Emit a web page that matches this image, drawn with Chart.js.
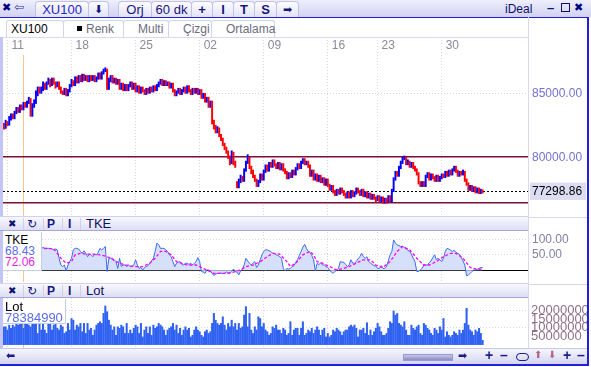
<!DOCTYPE html>
<html>
<head>
<meta charset="utf-8">
<script src="https://cdn.jsdelivr.net/npm/chart.js@4.4.0/dist/chart.umd.min.js"></script>
<style>
body{margin:0;width:591px;height:367px;overflow:hidden;background:#fff;position:relative;font-family:"Liberation Sans",Arial,sans-serif}
.a{position:absolute}
.sym{font-family:"DejaVu Sans",sans-serif}
.top{left:0;top:0;width:591px;height:17px;background:linear-gradient(#eeeefc,#d2d2f2)}
.ttab{position:absolute;top:1px;height:15px;border:1px solid #c2c2e6;border-bottom:none;border-radius:4px 4px 0 0;background:linear-gradient(#fdfdff,#e2e2f8);font-size:13px;line-height:16px;color:#16167e;text-align:center}
.stab{position:absolute;top:20px;height:16px;border:1px solid #d4d4e8;border-bottom:none;border-radius:3px 3px 0 0;background:#fff;font-size:12px;line-height:17px;color:#6c6c7c}
.tool{left:0;width:528px;height:13px;background:linear-gradient(#f8f8fe,#dedef6);border-top:1px solid #d6d0ee;border-bottom:1px solid #a6a6da}
.tool span{position:absolute;top:0;font-size:12px;line-height:14px;color:#16167e;font-weight:bold}
.tool i{position:absolute;top:1px;width:1px;height:12px;background:#cfcfea}
.legend{left:3px;background:#fff;border-right:1px solid #c2d0e2;border-bottom:1px solid #c2d0e2;font-size:12px;line-height:11px;padding-left:2px}
.box{position:absolute;left:0;width:588px}
</style>
</head>
<body>
<div class="a top">
  <span class="a sym" style="left:2px;top:1px;font-size:11px;color:#000080;font-weight:bold">✖</span>
  <span class="a sym" style="left:14px;top:0px;font-size:12px;color:#30309a">⇦</span>
  <div class="ttab" style="left:35px;width:52px;color:#2626c8">XU100</div>
  <div class="ttab sym" style="left:88px;width:19px;font-size:11px">⬇</div>
  <div class="ttab" style="left:118px;width:32px">Orj</div>
  <div class="ttab" style="left:151px;width:39px">60 dk</div>
  <div class="ttab" style="left:191px;width:20px;font-weight:bold">+</div>
  <div class="ttab" style="left:212px;width:20px;font-weight:bold">I</div>
  <div class="ttab" style="left:233px;width:20px;font-weight:bold">T</div>
  <div class="ttab" style="left:254px;width:21px;font-weight:bold">S</div>
  <div class="ttab sym" style="left:276px;width:21px;font-size:11px">➡</div>
  <span class="a" style="left:505px;top:2px;font-size:12px;color:#10106e">iDeal</span>
  <span class="a" style="left:547px;top:0px;font-size:13px;color:#10106e;font-weight:bold">–</span>
  <span class="a" style="left:561px;top:3px;width:7px;height:7px;border:1px solid #10106e"></span>
  <span class="a sym" style="left:574px;top:1px;font-size:11px;color:#000080;font-weight:bold">✖</span>
</div>
<div class="a" style="left:0;top:17px;width:589px;height:1px;background:#2020dc"></div>
<div class="stab" style="left:6px;width:56px;color:#000;padding-left:0"><span style="margin-left:4px">XU100</span></div>
<div class="stab" style="left:63px;width:59px"><span class="a" style="left:13px;top:5px;width:5px;height:5px;background:#000"></span><span class="a" style="left:22px">Renk</span></div>
<div class="stab" style="left:123px;width:44px"><span class="a" style="left:14px">Multi</span></div>
<div class="stab" style="left:168px;width:42px"><span class="a" style="left:14px">Çizgi</span></div>
<div class="stab" style="left:211px;width:62px"><span class="a" style="left:14px">Ortalama</span></div>
<div class="a" style="left:3px;top:37px;width:525px;height:1px;background:#dcd6f0"></div>
<div class="a" style="left:0;top:37px;width:3px;height:311px;background:#c4c4f6"></div>

<div class="box" style="top:37px;height:179px"><canvas id="price"></canvas></div>

<div class="a tool" style="top:216px">
  <span class="sym" style="left:8px;font-size:10px;color:#10106e">✖</span><i style="left:23px"></i>
  <span class="sym" style="left:27px;font-weight:normal">↻</span><i style="left:43px"></i>
  <span style="left:47px">P</span><i style="left:62px"></i>
  <span style="left:68px">I</span><i style="left:80px"></i>
  <span style="left:86px;font-weight:normal;font-size:13px;color:#10105a">TKE</span>
</div>
<div class="box" style="top:232px;height:50px"><canvas id="tke"></canvas></div>
<div class="a legend" style="top:232px;width:36px;height:35px;padding-top:3px">
  <div style="color:#000">TKE</div><div style="color:#5a6ee8">68.43</div><div style="color:#e61ee6">72.06</div>
</div>

<div class="a tool" style="top:283px">
  <span class="sym" style="left:8px;font-size:10px;color:#10106e">✖</span><i style="left:23px"></i>
  <span class="sym" style="left:27px;font-weight:normal">↻</span><i style="left:43px"></i>
  <span style="left:47px">P</span><i style="left:62px"></i>
  <span style="left:68px">I</span><i style="left:80px"></i>
  <span style="left:86px;font-weight:normal;font-size:13px;color:#10105a">Lot</span>
</div>
<div class="box" style="top:298px;height:50px"><canvas id="lot"></canvas></div>
<div class="a legend" style="top:299px;width:60px;height:22px;padding-top:2px;font-size:13px">
  <div style="color:#000">Lot</div><div style="color:#5a6ee8">78384990</div>
</div>

<div class="a" style="left:528px;top:17px;width:1px;height:331px;background:#dcd6f0"></div>
<div class="a" style="left:529px;top:217px;width:58px;height:1px;background:#dcd6f0"></div>
<div class="a" style="left:529px;top:284px;width:58px;height:1px;background:#dcd6f0"></div>

<div class="a" style="left:0;top:348px;width:587px;height:16px;background:linear-gradient(#f6f6fd,#d4d4f0);border-top:1px solid #c8c8e8;box-sizing:border-box">
  <span class="a sym" style="left:6px;top:0;font-size:11px;color:#1a1a8a">⬅</span>
  <span class="a" style="left:403px;top:5px;width:50px;height:7px;background:linear-gradient(#c8c8e8,#8a8ac6);border:1px solid #9a9ad0;box-sizing:border-box"></span>
  <span class="a sym" style="left:458px;top:0;font-size:11px;color:#1a1a8a">➡</span>
  <span class="a" style="left:485px;top:-2px;font-size:14px;font-weight:bold;color:#1a1a8a">+</span>
  <span class="a" style="left:500px;top:-2px;font-size:14px;font-weight:bold;color:#1a1a8a">–</span>
  <span class="a" style="left:516px;top:4px;width:11px;height:6px;border:1px solid #1a1a8a;border-radius:4px"></span>
  <span class="a sym" style="left:534px;top:0;font-size:10px;color:#b06888">⬆</span>
  <span class="a sym" style="left:548px;top:0;font-size:10px;color:#b06888">⬇</span>
  <span class="a" style="left:563px;top:-2px;font-size:14px;font-weight:bold;color:#1a1a8a">+</span>
  <span class="a" style="left:577px;top:-2px;font-size:14px;font-weight:bold;color:#1a1a8a">–</span>
</div>
<div class="a" style="left:587px;top:17px;width:2px;height:349px;background:#2020dc"></div>
<div class="a" style="left:0;top:364px;width:589px;height:2px;background:#2020dc"></div>

<script>
// hourly bars, week of 11th up to the 30th
const slotCount = 295;
const firstOpen = 82600;
const closes = [
  82300, 82700, 82600, 83000, 83300, 83100, 83500, 83800, 83600, 84000,
  83800, 84200, 84000, 84300, 84500, 83300, 84100, 84300, 85000, 85400,
  85100, 85300, 85700, 85400, 85800, 86000, 85700, 86100, 85800, 85600,
  85800, 85400, 85100, 85000, 85300, 84900, 85200, 85600, 85900, 85700,
  86200, 85900, 86300, 86000, 86400, 86100, 86300, 86000, 86300, 86100,
  86300, 86000, 86200, 86500, 86200, 86600, 86800, 86900, 85400, 86000,
  86300, 85900, 86100, 85800, 86000, 85400, 85700, 85300, 85600, 85300,
  85600, 85800, 85400, 85700, 85200, 85500, 85100, 85400, 85200, 85000,
  85300, 85100, 85400, 85200, 85500, 85300, 85600, 85800, 86000, 85700,
  85900, 85700, 85800, 85500, 85700, 85200, 84900, 85100, 85300, 85000,
  85200, 85400, 85100, 85500, 85200, 85000, 85300, 85100, 85300, 85000,
  85200, 84700, 84900, 84400, 84600, 84000, 84300, 82700, 82400, 82000,
  82200, 81700, 81400, 81000, 80700, 80400, 80000, 79600, 80300, 79500,
  79300, 77700, 78100, 78400, 78200, 79000, 79600, 80000, 79200, 78900,
  78500, 78200, 77800, 78100, 78600, 78300, 78900, 79300, 79000, 79500,
  79300, 79700, 79400, 79200, 79500, 79100, 79400, 79000, 78800, 78400,
  78700, 78500, 78900, 78700, 79100, 79400, 79200, 79600, 79800, 79500,
  79600, 79300, 78600, 78900, 78300, 78600, 78200, 78500, 78100, 78300,
  77900, 78200, 77800, 77500, 77700, 77300, 77100, 77400, 77200, 77500,
  77300, 77100, 76900, 77200, 76900, 77300, 77000, 77200, 77500, 77300,
  77100, 77400, 77000, 77200, 76900, 77100, 76800, 77000, 76800, 76700,
  76900, 76600, 76800, 76500, 76700, 76600, 76900, 76600, 77400, 78300,
  78800, 78600, 79200, 79600, 79900, 80000, 79500, 79700, 79300, 79500,
  79200, 79000, 78700, 78000, 77800, 78000, 77800, 78500, 78700, 78300,
  78600, 78400, 78200, 78500, 78200, 78400, 78600, 78500, 78800, 78600,
  78900, 78700, 79000, 79200, 78900, 78600, 78800, 78700, 78900, 78200,
  77900, 77500, 77700, 77400, 77600, 77300, 77500, 77200, 77400, 77298.86
];
const highs = [
  82650, 82900, 82800, 83200, 83400, 83400, 83600, 83900, 83900, 84100,
  84100, 84300, 84300, 84400, 84700, 84600, 84200, 84500, 85200, 85500,
  85500, 85500, 85900, 85800, 85900, 86200, 86100, 86200, 86200, 85900,
  85900, 85900, 85500, 85200, 85400, 85400, 85300, 85700, 86100, 86000,
  86300, 86300, 86400, 86400, 86500, 86500, 86400, 86400, 86400, 86400,
  86400, 86400, 86300, 86600, 86600, 86700, 86900, 87000, 86900, 86200,
  86400, 86400, 86200, 86200, 86100, 86100, 85800, 85800, 85700, 85700,
  85700, 85900, 85900, 85800, 85800, 85600, 85600, 85500, 85500, 85300,
  85400, 85400, 85500, 85500, 85600, 85600, 85700, 85900, 86100, 86100,
  86000, 86000, 85900, 85900, 85800, 85800, 85300, 85200, 85400, 85400,
  85300, 85500, 85500, 85600, 85600, 85300, 85400, 85400, 85400, 85400,
  85300, 85300, 85000, 85000, 84700, 84700, 84400, 84400, 82900, 82500,
  82400, 82300, 81800, 81500, 81100, 80800, 80500, 80100, 80500, 80400,
  79700, 78100, 78300, 78600, 78500, 79100, 79700, 80200, 80000, 79300,
  79000, 78600, 78300, 78200, 78700, 78700, 79000, 79400, 79400, 79600,
  79600, 79800, 79800, 79500, 79600, 79600, 79500, 79500, 79100, 78900,
  78800, 78800, 79000, 79000, 79200, 79500, 79500, 79700, 79900, 79900,
  79700, 79700, 79400, 79000, 79000, 78700, 78700, 78600, 78600, 78400,
  78400, 78300, 78300, 77900, 77800, 77800, 77400, 77500, 77500, 77600,
  77600, 77400, 77200, 77300, 77300, 77400, 77400, 77300, 77600, 77600,
  77400, 77500, 77500, 77300, 77300, 77200, 77200, 77100, 77100, 76900,
  77000, 77000, 76900, 76900, 76800, 76800, 77000, 77000, 77500, 78400,
  78900, 78900, 79300, 79700, 80000, 80100, 80000, 79800, 79700, 79600,
  79600, 79300, 79100, 78800, 78100, 78100, 78100, 78600, 78800, 78800,
  78700, 78700, 78500, 78600, 78600, 78500, 78700, 78700, 78900, 78900,
  79000, 79000, 79100, 79300, 79300, 79000, 78900, 78900, 79000, 78900,
  78300, 78000, 77800, 77800, 77700, 77700, 77600, 77600, 77500, 77450
];
const lows = [
  82200, 82250, 82450, 82500, 82900, 83000, 83000, 83400, 83500, 83500,
  83700, 83700, 83900, 83900, 84200, 83200, 83200, 83900, 84200, 84800,
  85000, 85000, 85200, 85300, 85300, 85700, 85500, 85600, 85700, 85400,
  85500, 85300, 85000, 84900, 84900, 84800, 84800, 85100, 85500, 85600,
  85600, 85800, 85800, 85900, 85900, 86000, 86000, 85900, 85900, 86000,
  86000, 85900, 85900, 86100, 86100, 86100, 86500, 86700, 85300, 85300,
  85900, 85800, 85800, 85700, 85700, 85300, 85300, 85200, 85200, 85200,
  85200, 85500, 85300, 85300, 85100, 85100, 85000, 85000, 85100, 84900,
  84900, 85000, 85000, 85100, 85100, 85200, 85200, 85500, 85700, 85600,
  85600, 85600, 85600, 85400, 85400, 85100, 84800, 84800, 85000, 84900,
  84900, 85100, 85000, 85000, 85100, 84900, 84900, 85000, 85000, 84900,
  84900, 84600, 84600, 84300, 84300, 83900, 83900, 82600, 82200, 81900,
  81900, 81600, 81300, 80900, 80600, 80300, 79900, 79400, 79500, 79400,
  79200, 77600, 77600, 78000, 78100, 78100, 78900, 79500, 79100, 78700,
  78400, 78100, 77700, 77700, 78000, 78200, 78200, 78800, 78900, 78900,
  79200, 79200, 79300, 79100, 79100, 79000, 79000, 78900, 78700, 78300,
  78300, 78400, 78400, 78600, 78600, 79000, 79100, 79100, 79500, 79400,
  79400, 79200, 78500, 78500, 78200, 78200, 78100, 78100, 78000, 78000,
  77800, 77800, 77700, 77400, 77400, 77200, 77000, 77000, 77100, 77100,
  77200, 77000, 76800, 76800, 76800, 76800, 76900, 76900, 77100, 77200,
  77000, 77000, 76900, 76900, 76800, 76800, 76700, 76700, 76700, 76500,
  76600, 76500, 76500, 76400, 76400, 76400, 76500, 76500, 76500, 77300,
  78200, 78500, 78500, 79100, 79500, 79800, 79400, 79400, 79200, 79200,
  79100, 78900, 78600, 77900, 77700, 77700, 77700, 77700, 78400, 78200,
  78200, 78300, 78100, 78100, 78100, 78100, 78300, 78400, 78400, 78500,
  78500, 78600, 78600, 78900, 78800, 78500, 78500, 78600, 78600, 78100,
  77800, 77400, 77400, 77300, 77300, 77200, 77200, 77150, 77150, 77200
];
const upperLine = 80000;
const lowerLine = 76400;
const priceTicks = [80000, 85000];

const weekStarts = [2, 38, 74, 110, 146, 182, 210, 246];
const weekLabels = ['11', '18', '25', '02', '09', '16', '23', '30'];
const cursorBar = 11;

const tke = [
  72, 70, 74, 68, 71, 75, 70, 66, 72, 74,
  69, 71, 73, 70, 68, 72, 75, 71, 69, 73,
  72, 70, 74, 71, 71, 71, 71, 69, 66, 69,
  66, 39, 17, 12, 17, -2, 17, 28, 39, 66,
  71, 71, 69, 61, 55, 63, 55, 44, 52, 50,
  44, 52, 50, 58, 71, 66, 71, 77, -4, 39,
  39, 39, 34, 28, 6, 39, 12, 17, 17, 12,
  17, 12, 12, 17, 34, 17, 6, 9, 1, 9,
  12, 15, 23, 30, 39, 61, 88, 82, 71, 71,
  71, 66, 61, 50, 44, 28, 12, 23, 26, 28,
  19, 17, 23, 23, 19, 23, 17, 23, 28, 41,
  28, -4, -6, -10, 1, 1, -2, -10, -17, -13,
  -10, -10, -9, -11, -10, -6, -10, -10, -4, 4,
  -4, -6, -15, -2, 4, 17, 39, 30, 23, 17,
  23, 28, 9, 17, 34, 50, 61, 66, 66, 63,
  61, 55, 55, 50, 48, 44, 39, 6, -2, 6,
  4, 6, 12, 15, 26, 34, 48, 61, 75, 84,
  71, 61, 58, 48, 34, -2, 22, 19, 23, 18,
  17, 12, 9, 1, -6, -10, -4, 1, 6, 28,
  26, 26, 19, 12, 17, 34, 23, 23, 28, 37,
  44, 55, 44, 39, 44, 28, 23, 19, 15, 14,
  6, 6, 15, 6, 6, 12, 30, 50, 61, 98,
  88, 82, 80, 77, 77, 74, 69, 65, 61, 52,
  39, 28, -4, -4, 1, 6, 17, 17, 17, 25,
  30, 41, 50, 34, 39, 34, 28, 39, 61, 71,
  69, 65, 61, 65, 58, 55, 52, 41, 30, 17,
  -18, -15, -10, -4, 1, 1, 3, 6, 9, 9
];
// average line, read at these bars
const tkeAvgBars = [0, 10, 21, 28, 32, 35, 38, 40, 43, 46, 50, 54, 58, 60, 63, 67, 73, 78, 82, 85, 88, 91, 94, 97,
  103, 108, 112, 118, 125, 129, 133, 136, 140, 144, 148, 151, 155, 159, 161, 164, 168, 172, 174, 176, 179,
  183, 187, 191, 194, 198, 202, 206, 209, 213, 217, 221, 224, 228, 232, 236, 239, 243, 247, 251, 254, 258,
  262, 266, 269];
const tkeAvg = [72, 72, 71, 70, 39, 23, 28, 50, 55, 52, 52, 50, 44, 39, 28, 19, 12, 12, 23, 39, 61, 61, 50, 28,
  17, 17, 6, -10, -10, -6, 1, 12, 17, 28, 44, 55, 52, 28, 12, 23, 50, 61, 50, 28, 23,
  12, 1, 6, 12, 23, 34, 34, 17, 9, 28, 61, 77, 66, 39, 17, 17, 28, 44, 55, 55, 39,
  9, 3, 4];
const tkeTicks = [50, 100];

// volume in millions
const lotsM = [
  10.5, 10.5, 8.6, 11.5, 9.6, 11.5, 10.5, 12.5, 11.5, 12.5,
  12.5, 9.6, 12.5, 12.5, 11.5, 10.5, 12.5, 12.5, 12.5, 6.6,
  12.5, 8.6, 12.5, 8.6, 6.6, 12.5, 12.5, 8.6, 11.5, 12.5,
  9.6, 8.6, 11.5, 10.5, 6.6, 7.6, 12.5, 8.6, 15.4, 14.4,
  8.6, 11.5, 10.5, 12.5, 7.6, 12.5, 6.6, 12.5, 8.6, 9.6,
  5.5, 8.6, 11.5, 12.5, 13.5, 12.5, 18.4, 22.8, 19.4, 14.4,
  11.5, 8.6, 10.5, 5.5, 10.5, 9.6, 11.5, 10.5, 6.6, 12.5,
  6.6, 8.6, 6.6, 9.6, 11.5, 10.5, 6.6, 12.5, 4.5, 8.6,
  10.5, 6.6, 10.5, 5.5, 11.5, 9.6, 10.5, 12.5, 11.5, 10.5,
  8.6, 5.5, 8.6, 9.6, 10.5, 12.5, 8.6, 11.5, 6.6, 9.6,
  5.5, 8.6, 10.5, 8.6, 9.6, 4.5, 5.5, 8.6, 10.5, 8.6,
  7.6, 5.5, 4.5, 7.6, 8.6, 6.6, 7.6, 12.5, 18.4, 14.4,
  12.5, 11.5, 12.5, 16.4, 11.5, 8.6, 12.5, 10.5, 14.4, 10.5,
  12.5, 8.6, 12.5, 9.6, 10.5, 17.4, 22.4, 10.5, 18.4, 8.6,
  6.6, 10.5, 8.6, 16.4, 15.4, 10.5, 12.5, 8.6, 7.6, 5.5,
  6.6, 10.5, 9.6, 11.5, 8.6, 8.6, 6.6, 9.6, 8.6, 5.5,
  6.6, 13.5, 5.5, 8.6, 9.6, 9.6, 5.5, 9.6, 13.5, 5.5,
  6.6, 8.6, 7.6, 9.6, 6.6, 8.6, 10.5, 8.6, 5.5, 8.6,
  9.6, 4.5, 6.6, 4.5, 5.5, 8.6, 7.6, 9.6, 8.6, 7.6,
  5.5, 7.6, 8.6, 8.6, 10.5, 11.5, 10.5, 11.5, 9.6, 4.5,
  8.6, 8.6, 9.6, 6.6, 12.9, 5.5, 8.6, 5.5, 7.6, 9.6,
  12.5, 10.5, 7.6, 5.5, 5.5, 6.6, 9.6, 13.5, 12.5, 19.8,
  17.4, 18.4, 12.5, 11.5, 10.5, 13.5, 8.6, 5.5, 5.5, 11.5,
  9.6, 8.6, 10.5, 11.5, 6.6, 5.5, 12.5, 11.5, 9.6, 8.6,
  6.6, 5.5, 9.6, 8.6, 6.6, 10.5, 8.6, 15.4, 4.5, 7.6,
  5.5, 4.5, 5.5, 7.6, 6.6, 5.5, 8.6, 6.6, 8.6, 12.5,
  21.4, 11.5, 8.6, 7.6, 5.5, 8.6, 7.6, 9.6, 6.6, 2.5
];
const lotTicks = [5000000, 10000000, 15000000, 20000000];
const lotGrid = [10000000, 20000000];

Chart.defaults.font.family = '"Liberation Sans", Arial, sans-serif';
Chart.defaults.font.size = 12;

const lastClose = closes[closes.length - 1];
const isCursor = c => c.tick && c.tick.value === cursorBar;

function timeAxis(showLabels) {
  return {
    type: 'linear', position: 'top', min: -0.5, max: slotCount - 0.5, offset: false,
    afterBuildTicks: s => { s.ticks = weekStarts.concat([cursorBar]).sort((a, b) => a - b).map(v => ({value: v})); },
    afterFit: s => { s.height = showLabels ? 18 : 0; s.paddingLeft = 0; s.paddingRight = 0; },
    ticks: {
      display: showLabels, autoSkip: false, maxRotation: 0, align: 'start', labelOffset: 4, padding: -16,
      color: '#8a8a9a',
      callback: v => { const k = weekStarts.indexOf(v); return k < 0 ? '' : weekLabels[k]; }
    },
    grid: {
      offset: false, drawTicks: showLabels, tickLength: 18,
      color: c => isCursor(c) ? '#f8c48c' : '#dadada',
      tickColor: c => isCursor(c) ? 'rgba(0,0,0,0)' : '#dadada',
      tickBorderDash: [1, 2]
    },
    border: { display: false, dash: c => isCursor(c) ? [] : [1, 2] }
  };
}
// right-hand value axis: fixed width, no extra room for half labels
const fitValueAxis = s => { s.width = 60; s.paddingTop = 0; s.paddingBottom = 0; };

const common = {
  animation: false, responsive: true, maintainAspectRatio: false, events: [],
  layout: { padding: { left: 3 } },
  plugins: { legend: { display: false }, tooltip: { enabled: false } }
};

new Chart(document.getElementById('price'), {
  type: 'bar',
  data: {
    datasets: [{
      data: closes.map((c, i) => ({ x: i, y: [lows[i], highs[i]] })),
      backgroundColor: closes.map((c, i) => c >= (i ? closes[i - 1] : firstOpen) ? '#0000ff' : '#ff0000'),
      barThickness: 1.3
    }]
  },
  options: {
    ...common,
    scales: {
      x: timeAxis(true),
      y: {
        position: 'right', min: 75400, max: 88000,
        afterBuildTicks: s => { s.ticks = [lowerLine, lastClose].concat(priceTicks).map(v => ({value: v})); },
        afterFit: fitValueAxis,
        ticks: {
          autoSkip: false, padding: 4,
          callback: v => v === lowerLine ? '' : v.toFixed(2),
          color: c => c.tick && c.tick.value === lastClose ? '#000' : '#7272d2',
          showLabelBackdrop: c => !!(c.tick && c.tick.value === lastClose),
          backdropColor: '#dcdcf2',
          backdropPadding: { left: 2, right: 4, top: 2, bottom: 1 }
        },
        grid: {
          drawTicks: false,
          color: c => {
            const v = c.tick && c.tick.value;
            return v === upperLine || v === lowerLine ? '#7a0f3c' : v === lastClose ? '#000' : '#d6d6d6';
          },
          lineWidth: c => {
            const v = c.tick && c.tick.value;
            return v === upperLine || v === lowerLine ? 1.5 : 1;
          }
        },
        border: {
          display: false,
          dash: c => {
            const v = c.tick && c.tick.value;
            return v === upperLine || v === lowerLine ? [] : v === lastClose ? [2, 2] : [1, 2];
          }
        }
      }
    }
  }
});

new Chart(document.getElementById('tke'), {
  type: 'line',
  data: {
    datasets: [
      {
        data: tkeAvgBars.map((b, k) => ({ x: b, y: tkeAvg[k] })),
        borderColor: '#ff00ff', borderWidth: 1.3, borderDash: [3, 2], pointRadius: 0, fill: false, order: 0
      },
      {
        data: tke.map((v, i) => ({ x: i, y: v })),
        borderColor: '#3c6cf0', borderWidth: 1, backgroundColor: '#d6e0fa', fill: 'origin', pointRadius: 0, order: 1
      }
    ]
  },
  options: {
    ...common,
    scales: {
      x: timeAxis(false),
      y: {
        position: 'right', min: -38, max: 124,
        afterBuildTicks: s => { s.ticks = [0].concat(tkeTicks).map(v => ({value: v})); },
        afterFit: fitValueAxis,
        ticks: { autoSkip: false, padding: 4, color: '#8282a4', callback: v => v === 0 ? '' : v.toFixed(2) },
        grid: { drawTicks: false, color: c => c.tick && c.tick.value === 0 ? '#000' : '#d8d8d8' },
        border: { display: false, dash: c => c.tick && c.tick.value === 0 ? [] : [1, 2] }
      }
    }
  }
});

new Chart(document.getElementById('lot'), {
  type: 'bar',
  data: {
    datasets: [{
      data: lotsM.map((v, i) => ({ x: i, y: v * 1e6 })),
      backgroundColor: '#3062f2', barThickness: 1.4
    }]
  },
  options: {
    ...common,
    scales: {
      x: timeAxis(false),
      y: {
        position: 'right', min: -2000000, max: 27500000,
        afterBuildTicks: s => { s.ticks = lotTicks.map(v => ({value: v})); },
        afterFit: fitValueAxis,
        ticks: { autoSkip: false, padding: 3, color: '#8e7088', font: { size: 13 }, callback: v => String(v) },
        grid: { drawTicks: false, color: c => c.tick && lotGrid.includes(c.tick.value) ? '#d8d8d8' : 'rgba(0,0,0,0)' },
        border: { display: false, dash: [1, 2] }
      }
    }
  }
});
</script>
</body>
</html>
